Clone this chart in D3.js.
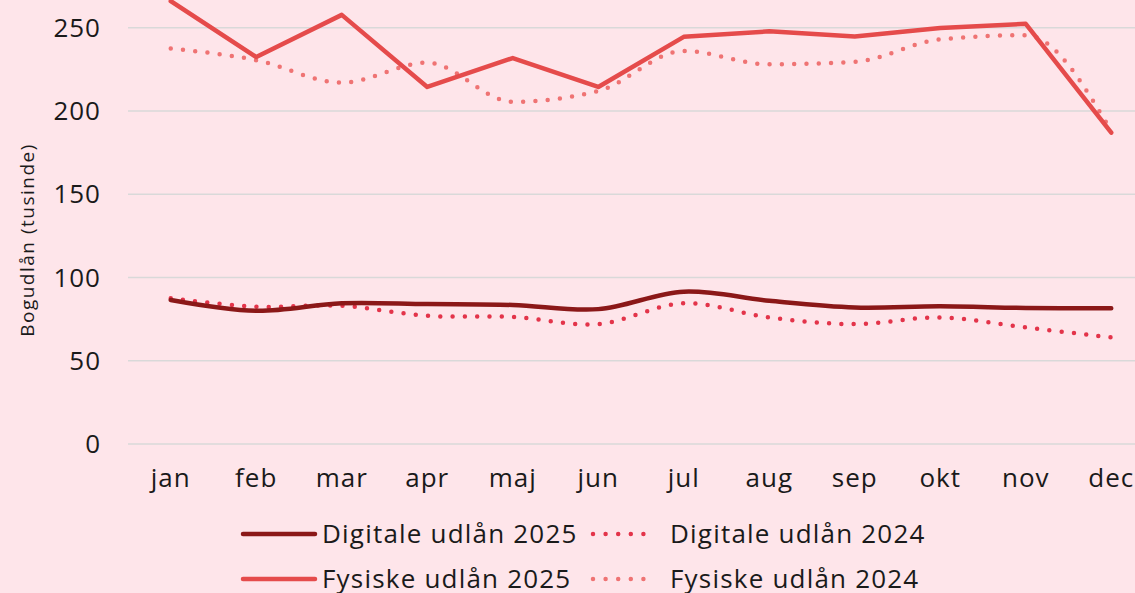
<!DOCTYPE html>
<html>
<head>
<meta charset="utf-8">
<script src="https://cdn.jsdelivr.net/npm/d3@7"></script>
<style>
  html, body { margin: 0; padding: 0; background: #fee5ea; }
  svg { display: block; font-family: "Open Sans", Lato, sans-serif; }
</style>
</head>
<body>
<div class="chart"></div>
<script>
var width = 1135;
var height = 593;

var months = ['jan','feb','mar','apr','maj','jun','jul','aug','sep','okt','nov','dec'];
var yTicks = [0, 50, 100, 150, 200, 250];

var digitale2025 = [86.5, 80, 84.5, 84, 83.5, 81, 91.5, 86, 82, 82.7, 81.7, 81.5];
var digitale2024 = [87.5, 82.5, 83, 77, 76.3, 72, 84.5, 76, 72, 76, 70, 64];
var fysiske2025 = [266, 232.4, 257.7, 214.4, 231.8, 214.4, 244.5, 247.8, 244.7, 249.8, 252.3, 187];
var fysiske2024 = [237.5, 230.5, 217, 229, 205.5, 212, 236, 228, 229.5, 243, 245.5, 188];

var series = [
  { name: 'Digitale udlån 2025', values: digitale2025, color: '#8b1818', dotted: false, curve: d3.curveCatmullRom.alpha(0) },
  { name: 'Digitale udlån 2024', values: digitale2024, color: '#e3344a', dotted: true, curve: d3.curveCatmullRom.alpha(0) },
  { name: 'Fysiske udlån 2025', values: fysiske2025, color: '#e54b4b', dotted: false, curve: d3.curveLinear },
  { name: 'Fysiske udlån 2024', values: fysiske2024, color: '#ef7373', dotted: true, curve: d3.curveMonotoneX }
];

var svg = d3.select('.chart')
  .append('svg')
  .attr('width', width)
  .attr('height', height);

svg.append('rect').attr('width', width).attr('height', height).attr('fill', '#fee5ea');

var x = d3.scalePoint().domain(months).range([128, 1154]).padding(0.5);
var y = d3.scaleLinear().domain([0, 250]).range([444, 27.7]);

// gridlines
svg.append('g')
  .selectAll('line')
  .data(yTicks)
  .enter().append('line')
  .attr('x1', 128)
  .attr('x2', width)
  .attr('y1', function(d){ return y(d) })
  .attr('y2', function(d){ return y(d) })
  .attr('stroke', '#d9d9d9')
  .attr('stroke-width', 1.5);

// y tick labels
svg.append('g')
  .selectAll('text')
  .data(yTicks)
  .enter().append('text')
  .attr('x', 101)
  .attr('y', function(d){ return y(d) })
  .attr('dy', '0.35em')
  .attr('text-anchor', 'end')
  .attr('font-size', '26px')
  .attr('letter-spacing', '1px')
  .attr('fill', '#1a1a1a')
  .text(function(d){ return d });

// x tick labels
svg.append('g')
  .selectAll('text')
  .data(months)
  .enter().append('text')
  .attr('x', function(d){ return x(d) })
  .attr('y', 478)
  .attr('dy', '0.35em')
  .attr('text-anchor', 'middle')
  .attr('font-size', '26px')
  .attr('letter-spacing', '1px')
  .attr('fill', '#1a1a1a')
  .text(function(d){ return d });

// y axis title
svg.append('text')
  .attr('transform', 'translate(27,240) rotate(-90)')
  .attr('text-anchor', 'middle')
  .attr('dy', '0.35em')
  .attr('font-size', '19px')
  .attr('letter-spacing', '1.5px')
  .attr('fill', '#1a1a1a')
  .text('Bogudlån (tusinde)');

// lines, drawn back to front
[3, 2, 1, 0].forEach(function(i){
  var s = series[i];
  var line = d3.line()
    .x(function(d, j){ return x(months[j]) })
    .y(function(d){ return y(d) })
    .curve(s.curve);
  svg.append('path')
    .datum(s.values)
    .attr('d', line)
    .attr('fill', 'none')
    .attr('stroke', s.color)
    .attr('stroke-width', 4.5)
    .attr('stroke-linecap', 'round')
    .attr('stroke-linejoin', 'round')
    .attr('stroke-dasharray', s.dotted ? '0 12.3' : null);
});

// legend
var legendPos = [
  { x: 243, y: 534 },
  { x: 593, y: 534 },
  { x: 243, y: 579 },
  { x: 593, y: 579 }
];

var legend = svg.selectAll('.legend')
  .data(series)
  .enter().append('g')
  .attr('class', 'legend')
  .attr('transform', function(d, i){ return 'translate(' + legendPos[i].x + ',' + legendPos[i].y + ')' });

legend.append('line')
  .attr('x1', 0)
  .attr('x2', function(d){ return d.dotted ? 63 : 72 })
  .attr('y1', 0)
  .attr('y2', 0)
  .attr('stroke', function(d){ return d.color })
  .attr('stroke-width', 4.5)
  .attr('stroke-linecap', 'round')
  .attr('stroke-dasharray', function(d){ return d.dotted ? '0 12.6' : null });

legend.append('text')
  .attr('x', function(d){ return d.dotted ? 77 : 79 })
  .attr('y', 0)
  .attr('dy', '0.35em')
  .attr('font-size', '26px')
  .attr('letter-spacing', '1.2px')
  .attr('fill', '#1a1a1a')
  .text(function(d){ return d.name });
</script>
</body>
</html>
